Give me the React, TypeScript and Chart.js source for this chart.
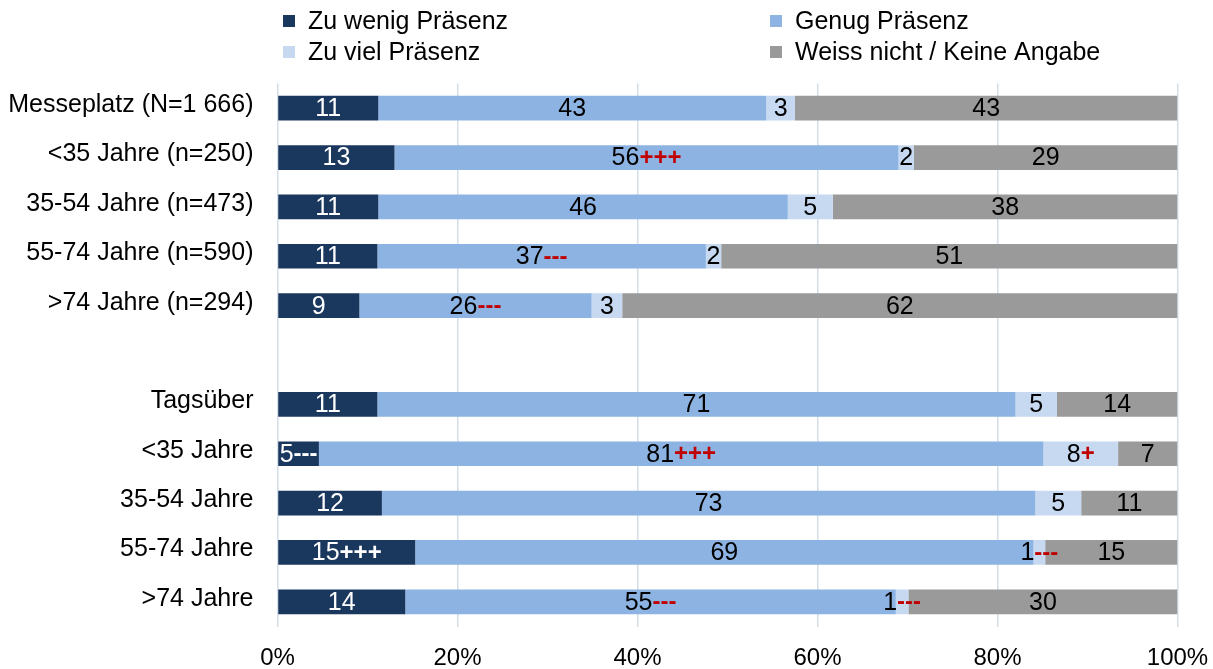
import React, { useEffect, useRef } from "react";
import { Chart, registerables } from "chart.js";

Chart.register(...registerables);

const categories = [
  "Messeplatz (N=1 666)",
  "<35 Jahre (n=250)",
  "35-54 Jahre (n=473)",
  "55-74 Jahre (n=590)",
  ">74 Jahre (n=294)",
  "",
  "Tagsüber",
  "<35 Jahre",
  "35-54 Jahre",
  "55-74 Jahre",
  ">74 Jahre",
];

const seriesNames = ["Zu wenig Präsenz", "Genug Präsenz", "Zu viel Präsenz", "Weiss nicht / Keine Angabe"];
const seriesColors = ["#1A375E", "#8DB3E2", "#C6D9F1", "#9A9A9A"];

const zuWenig = [11.2, 13.0, 11.2, 11.1, 9.1, null, 11.1, 4.6, 11.6, 15.3, 14.2];
const genug = [43.1, 56.0, 45.5, 36.5, 25.8, null, 70.9, 80.5, 72.6, 68.7, 54.5];
const zuViel = [3.2, 1.7, 5.0, 1.7, 3.4, null, 4.6, 8.3, 5.1, 1.3, 1.4];
const weissNicht = [42.5, 29.3, 38.3, 50.7, 61.7, null, 13.4, 6.6, 10.7, 14.7, 29.9];

const zuWenigLabels = ["11", "13", "11", "11", "9", "", "11", "5---", "12", "15+++", "14"];
const genugLabels = ["43", "56+++", "46", "37---", "26---", "", "71", "81+++", "73", "69", "55---"];
const zuVielLabels = ["3", "2", "5", "2", "3", "", "5", "8+", "5", "1---", "1---"];
const weissNichtLabels = ["43", "29", "38", "51", "62", "", "14", "7", "11", "15", "30"];

const xTickValues = [0, 20, 40, 60, 80, 100];

const FONT = "'Liberation Sans', Arial, Helvetica, sans-serif";

const segmentLabelPlugin = {
  id: "segmentLabels",
  afterDatasetsDraw(chart: any) {
    const ctx = chart.ctx;
    const allLabels = [zuWenigLabels, genugLabels, zuVielLabels, weissNichtLabels];
    ctx.save();
    ctx.textBaseline = "middle";
    ctx.textAlign = "left";
    chart.data.datasets.forEach((_ds: any, i: number) => {
      const meta = chart.getDatasetMeta(i);
      meta.data.forEach((bar: any, j: number) => {
        const lbl = allLabels[i][j];
        if (!lbl) return;
        const m = /^(\d+)([+\-]*)$/.exec(lbl);
        const num = m ? m[1] : lbl;
        const suf = m ? m[2] : "";
        const p = bar.getProps(["x", "y", "base"], true);
        const cx = (p.x + p.base) / 2;
        const numFont = `25px ${FONT}`;
        const sufFont = `bold 24px ${FONT}`;
        ctx.font = numFont;
        const wn = ctx.measureText(num).width;
        ctx.font = sufFont;
        const ws = suf ? ctx.measureText(suf).width : 0;
        const start = cx - (wn + ws) / 2;
        const y = p.y + 1;
        ctx.font = numFont;
        ctx.fillStyle = i === 0 ? "#FFFFFF" : "#000000";
        ctx.fillText(num, start, y);
        if (suf) {
          ctx.font = sufFont;
          ctx.fillStyle = i === 0 ? "#FFFFFF" : "#C00000";
          ctx.fillText(suf, start + wn, y);
        }
      });
    });
    ctx.restore();
  },
};

const legendPlugin = {
  id: "gridLegend",
  afterDraw(chart: any) {
    const ctx = chart.ctx;
    const slots = [
      [283, 21],
      [770, 21],
      [283, 52],
      [770, 52],
    ];
    ctx.save();
    ctx.textBaseline = "middle";
    ctx.textAlign = "left";
    ctx.font = `25px ${FONT}`;
    seriesNames.forEach((name, k) => {
      const [x, y] = slots[k];
      ctx.fillStyle = seriesColors[k];
      ctx.fillRect(x, y - 6, 12, 12);
      ctx.fillStyle = "#000000";
      ctx.fillText(name, x + 25, y + 1);
    });
    ctx.restore();
  },
};

export default function App() {
  const canvasRef = useRef<HTMLCanvasElement | null>(null);

  useEffect(() => {
    document.body.style.margin = "0";
    const canvas = canvasRef.current;
    if (!canvas) return;
    const seriesData = [zuWenig, genug, zuViel, weissNicht];
    const chart = new Chart(canvas, {
      type: "bar",
      data: {
        labels: categories,
        datasets: seriesData.map((d, i) => ({
          label: seriesNames[i],
          data: d as any,
          backgroundColor: seriesColors[i],
          borderWidth: 0,
          barPercentage: 0.5,
          categoryPercentage: 1,
        })),
      },
      options: {
        indexAxis: "y",
        responsive: false,
        animation: false,
        devicePixelRatio: 1,
        layout: { padding: { top: 83.5, right: 35.5, bottom: 0, left: 0 } },
        plugins: {
          legend: { display: false },
          tooltip: { enabled: false },
        },
        scales: {
          x: {
            stacked: true,
            min: 0,
            max: 100,
            afterBuildTicks: (scale: any) => {
              scale.ticks = xTickValues.map((v) => ({ value: v }));
            },
            ticks: {
              color: "#000000",
              font: { size: 24, family: FONT },
              padding: 17,
              maxRotation: 0,
              callback: (v: any) => `${v}%`,
            },
            grid: { color: "#D3DEE8", lineWidth: 1.5, drawTicks: false },
            border: { display: false },
            afterFit: (scale: any) => {
              scale.height = 42.5;
              scale.paddingLeft = 0;
              scale.paddingRight = 0;
            },
          },
          y: {
            stacked: true,
            ticks: {
              color: "#000000",
              font: { size: 25, family: FONT },
              padding: 24,
              labelOffset: -3,
              autoSkip: false,
            },
            grid: { display: false, drawTicks: false },
            border: { display: false },
            afterFit: (scale: any) => {
              scale.width = 277.5;
              scale.paddingTop = 0;
              scale.paddingBottom = 0;
            },
          },
        },
      },
      plugins: [segmentLabelPlugin, legendPlugin],
    });
    return () => chart.destroy();
  }, []);

  return (
    <div style={{ width: 1213, height: 669, background: "#FFFFFF" }}>
      <canvas ref={canvasRef} width={1213} height={669} style={{ display: "block" }} />
    </div>
  );
}
